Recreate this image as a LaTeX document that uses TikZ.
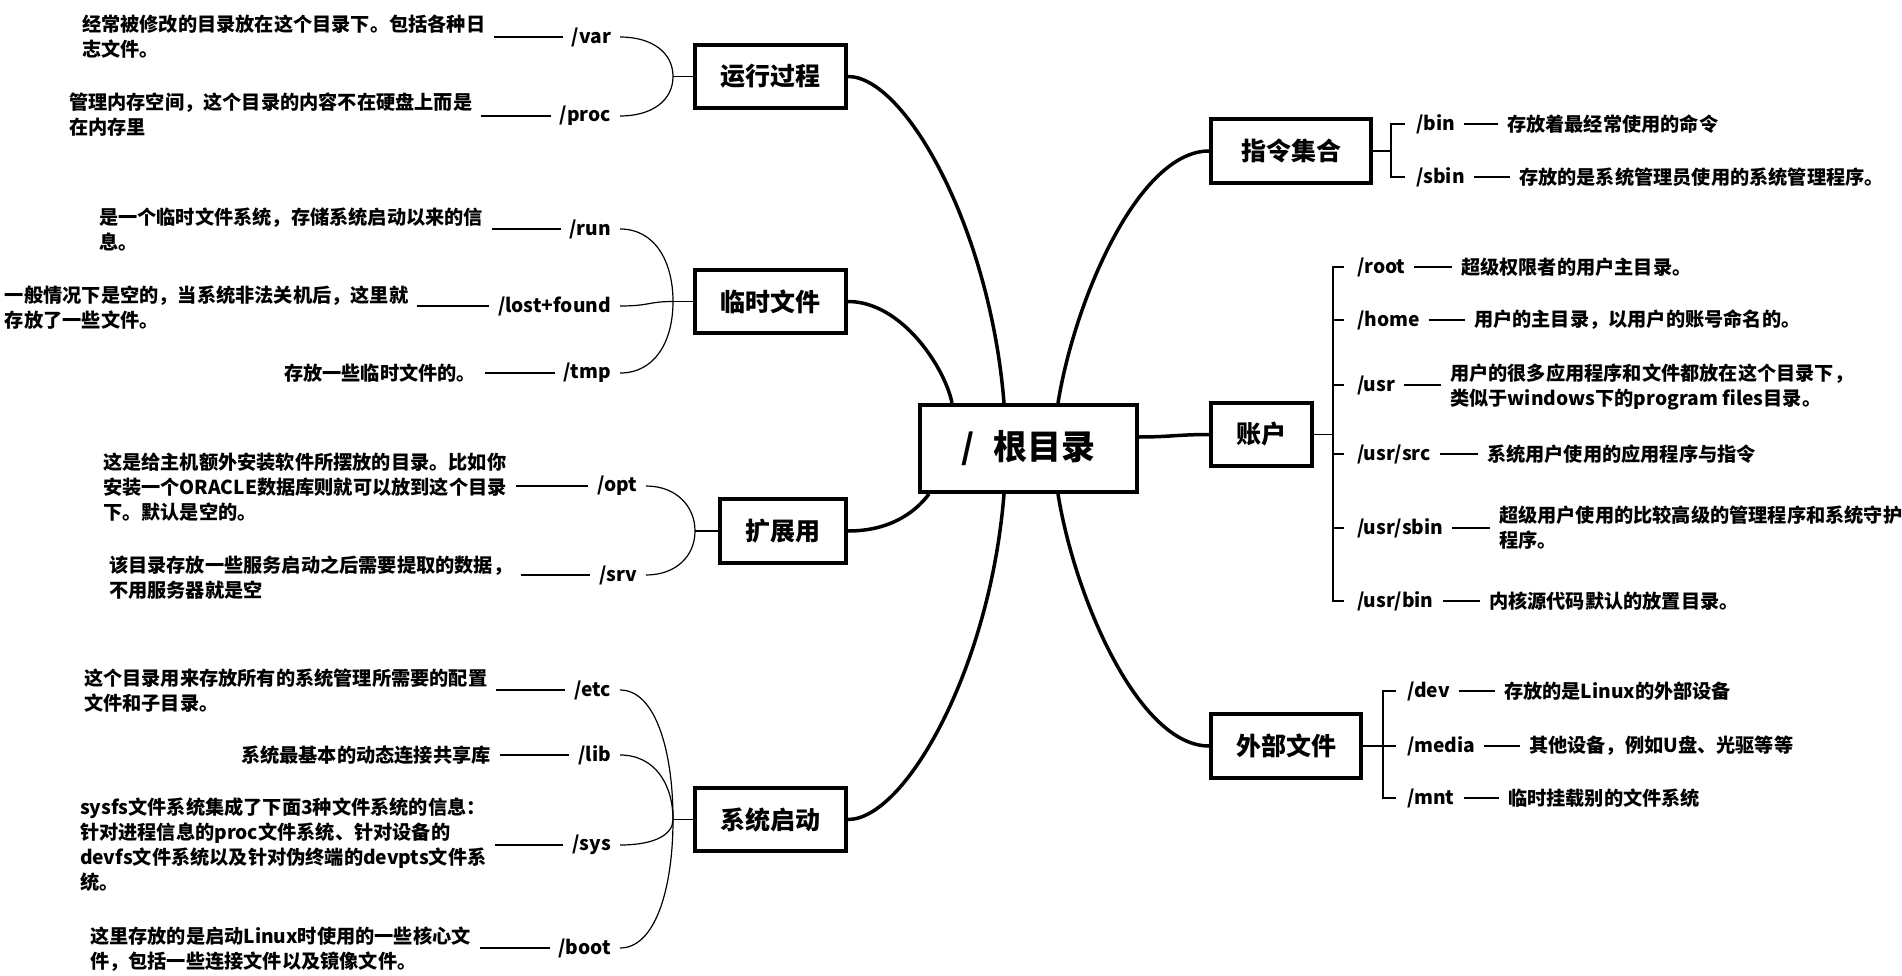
\documentclass[tikz,border=0pt]{standalone}
\usepackage{fontspec}
\setmainfont{Noto Sans CJK SC}
\usetikzlibrary{calc}
\tikzset{
  desc/.style={font=\fontsize{19.2}{25}\selectfont\bfseries, align=left, inner sep=0pt, outer xsep=9pt, outer ysep=0pt},
  lbl/.style={font=\fontsize{19.2}{25}\selectfont\bfseries, inner sep=0pt, outer xsep=9pt, outer ysep=0pt},
  catbox/.style={draw, line width=4pt, font=\fontsize{25}{30}\selectfont\bfseries, inner sep=0pt},
  mainline/.style={line width=3.5pt},
  thinline/.style={line width=1.2pt},
}
\begin{document}
\begin{tikzpicture}[x=1pt,y=-1pt]
\fill[white] (0,0) rectangle (1902,976);
\useasboundingbox (0,0) rectangle (1902,976);

% category boxes
\node[catbox, minimum width=151pt, minimum height=63pt] (yx) at (770.5,76.5) {运行过程};
\node[catbox, minimum width=151pt, minimum height=63pt] (ls) at (770.5,301.5) {临时文件};
\node[catbox, minimum width=126pt, minimum height=64pt] (ky) at (783,531) {扩展用};
\node[catbox, minimum width=151pt, minimum height=63pt] (xt) at (770.5,819.5) {系统启动};
\node[catbox, minimum width=160pt, minimum height=64pt] (zl) at (1291,151) {指令集合};
\node[catbox, minimum width=101pt, minimum height=63pt] (zh) at (1261.5,434.5) {账户};
\node[catbox, minimum width=150pt, minimum height=64pt] (wb) at (1286,746) {外部文件};
\node[catbox, minimum width=217pt, minimum height=87pt, font=\fontsize{34}{40}\selectfont\bfseries] (root) at (1028.5,448.5) {/\hspace{0.55em}根目录};

% main connectors
\draw[mainline] (yx.east) .. controls +(57,0) and +(-14,-175) .. ($(root.north)+(-24.5,0)$);
\draw[mainline] (ls.east) .. controls +(54,0) and +(-7,-35) .. ($(root.north)+(-76.5,0)$);
\draw[mainline] (ky.east) .. controls +(40,0) and +(-15,20) .. ($(root.south)+(-99.5,0)$);
\draw[mainline] (xt.east) .. controls +(57,0) and +(-14,175) .. ($(root.south)+(-24.5,0)$);
\draw[mainline] ($(root.north)+(29.5,0)$) .. controls +(17,-105) and +(-70,0) .. (zl.west);
\draw[mainline] ($(root.east)+(0,-11.5)$) .. controls +(30,0) and +(-30,0) .. (zh.west);
\draw[mainline] ($(root.south)+(29.5,0)$) .. controls +(17,105) and +(-70,0) .. (wb.west);

% ---------- 运行过程 ----------
\node[desc, anchor=west] (vard) at (73,37) {经常被修改的目录放在这个目录下。包括各种日\\志文件。};
\node[lbl, anchor=east] (var) at (620,37) {/var};
\node[desc, anchor=west] (procd) at (60,114.5) {管理内存空间，这个目录的内容不在硬盘上而是\\在内存里};
\node[lbl, anchor=east] (proc) at (620,116) {/proc};
\coordinate (jyx) at ($(yx.west)+(-20,0)$);
\draw[thinline] (vard.east |- var) -- (var.west);
\draw[thinline] (procd.east |- proc) -- (proc.west);
\draw[thinline] (var.east) .. controls +(32,0) and +(0,-24) .. (jyx);
\draw[thinline] (proc.east) .. controls +(32,0) and +(0,24) .. (jyx);
\draw[thinline] (jyx) -- (yx.west);

% ---------- 临时文件 ----------
\node[desc, anchor=west] (rund) at (90,229.5) {是一个临时文件系统，存储系统启动以来的信\\息。};
\node[lbl, anchor=east] (run) at (620,229) {/run};
\node[desc, anchor=west] (lostd) at (-4,307.5) {一般情况下是空的，当系统非法关机后，这里就\\存放了一些文件。};
\node[lbl, anchor=east] (lost) at (620,306) {/lost+found};
\node[desc, anchor=west] (tmpd) at (275,373) {存放一些临时文件的。};
\node[lbl, anchor=east] (tmp) at (620,373) {/tmp};
\coordinate (jls) at ($(ls.west)+(-20,0)$);
\draw[thinline] (rund.east |- run) -- (run.west);
\draw[thinline] (lostd.east |- lost) -- (lost.west);
\draw[thinline] (tmpd.east |- tmp) -- (tmp.west);
\draw[thinline] (run.east) .. controls +(35,0) and +(0,-40) .. (jls);
\draw[thinline] (lost.east) .. controls +(30,0) and +(-25,0) .. (jls);
\draw[thinline] (tmp.east) .. controls +(35,0) and +(0,40) .. (jls);
\draw[thinline] (jls) -- (ls.west);

% ---------- 扩展用 ----------
\node[desc, anchor=west] (optd) at (94,487.5) {这是给主机额外安装软件所摆放的目录。比如你\\安装一个ORACLE数据库则就可以放到这个目录\\下。默认是空的。};
\node[lbl, anchor=east] (opt) at (646,486) {/opt};
\node[desc, anchor=west] (srvd) at (100,577.5) {该目录存放一些服务启动之后需要提取的数据，\\不用服务器就是空};
\node[lbl, anchor=east] (srv) at (646,575) {/srv};
\coordinate (jky) at ($(ky.west)+(-23,0)$);
\draw[thinline] (optd.east |- opt) -- (opt.west);
\draw[thinline] (srvd.east |- srv) -- (srv.west);
\draw[thinline] (opt.east) .. controls +(30,0) and +(0,-25) .. (jky);
\draw[thinline] (srv.east) .. controls +(30,0) and +(0,25) .. (jky);
\draw[thinline] (jky) -- (ky.west);

% ---------- 系统启动 ----------
\node[desc, anchor=west] (etcd) at (75,690.5) {这个目录用来存放所有的系统管理所需要的配置\\文件和子目录。};
\node[lbl, anchor=east] (etc) at (620,690) {/etc};
\node[desc, anchor=west] (libd) at (232,755) {系统最基本的动态连接共享库};
\node[lbl, anchor=east] (lib) at (620,755) {/lib};
\node[desc, anchor=west] (sysd) at (71,845) {sysfs文件系统集成了下面3种文件系统的信息：\\针对进程信息的proc文件系统、针对设备的\\devfs文件系统以及针对伪终端的devpts文件系\\统。};
\node[lbl, anchor=east] (sys) at (620,845) {/sys};
\node[desc, anchor=west] (bootd) at (81,949) {这里存放的是启动Linux时使用的一些核心文\\件，包括一些连接文件以及镜像文件。};
\node[lbl, anchor=east] (boot) at (620,948) {/boot};
\coordinate (jxt) at ($(xt.west)+(-20,0)$);
\draw[thinline] (etcd.east |- etc) -- (etc.west);
\draw[thinline] (libd.east |- lib) -- (lib.west);
\draw[thinline] (sysd.east |- sys) -- (sys.west);
\draw[thinline] (bootd.east |- boot) -- (boot.west);
\draw[thinline] (etc.east) .. controls +(35,0) and +(0,-70) .. (jxt);
\draw[thinline] (lib.east) .. controls +(35,0) and +(0,-35) .. (jxt);
\draw[thinline] (sys.east) .. controls +(35,0) and +(0,15) .. (jxt);
\draw[thinline] (boot.east) .. controls +(35,0) and +(0,70) .. (jxt);
\draw[thinline] (jxt) -- (xt.west);

% ---------- 指令集合 ----------
\node[lbl, anchor=west] (bin) at (1407,124) {/bin};
\node[desc, anchor=west] (bind) at (1498,124) {存放着最经常使用的命令};
\node[lbl, anchor=west] (sbin) at (1407,177) {/sbin};
\node[desc, anchor=west] (sbind) at (1510,177) {存放的是系统管理员使用的系统管理程序。};
\coordinate (jzl) at ($(zl.east)+(18,0)$);
\draw[thinline] (zl.east) -- (jzl);
\draw[thinline] ($(bin.west)+(-2,0)$) -| (jzl) |- ($(sbin.west)+(-2,0)$);
\draw[thinline] (bin.east) -- (bind.west);
\draw[thinline] (sbin.east) -- (sbind.west);

% ---------- 账户 ----------
\node[lbl, anchor=west] (rootl) at (1348,267) {/root};
\node[desc, anchor=west] (rootd) at (1452,267) {超级权限者的用户主目录。};
\node[lbl, anchor=west] (home) at (1348,320) {/home};
\node[desc, anchor=west] (homed) at (1465,320) {用户的主目录，以用户的账号命名的。};
\node[lbl, anchor=west] (usr) at (1348,385) {/usr};
\node[desc, anchor=west] (usrd) at (1441,387) {用户的很多应用程序和文件都放在这个目录下，\\类似于windows下的program files目录。};
\node[lbl, anchor=west] (usrsrc) at (1348,454) {/usr/src};
\node[desc, anchor=west] (usrsrcd) at (1478,454) {系统用户使用的应用程序与指令};
\node[lbl, anchor=west] (usrsbin) at (1348,528) {/usr/sbin};
\node[desc, anchor=west] (usrsbind) at (1490,528) {超级用户使用的比较高级的管理程序和系统守护\\程序。};
\node[lbl, anchor=west] (usrbin) at (1348,601) {/usr/bin};
\node[desc, anchor=west] (usrbind) at (1480,601) {内核源代码默认的放置目录。};
\coordinate (jzh) at ($(zh.east)+(19,0)$);
\draw[thinline] (zh.east) -- (jzh);
\draw[thinline] ($(rootl.west)+(-4,0)$) -| (jzh) |- ($(usrbin.west)+(-4,0)$);
\draw[thinline] (jzh |- home) -- ($(home.west)+(-4,0)$);
\draw[thinline] (jzh |- usr) -- ($(usr.west)+(-4,0)$);
\draw[thinline] (jzh |- usrsrc) -- ($(usrsrc.west)+(-4,0)$);
\draw[thinline] (jzh |- usrsbin) -- ($(usrsbin.west)+(-4,0)$);
\draw[thinline] (rootl.east) -- (rootd.west);
\draw[thinline] (home.east) -- (homed.west);
\draw[thinline] (usr.east) -- (usrd.west |- usr);
\draw[thinline] (usrsrc.east) -- (usrsrcd.west);
\draw[thinline] (usrsbin.east) -- (usrsbind.west |- usrsbin);
\draw[thinline] (usrbin.east) -- (usrbind.west);

% ---------- 外部文件 ----------
\node[lbl, anchor=west] (dev) at (1398,691) {/dev};
\node[desc, anchor=west] (devd) at (1495,691) {存放的是Linux的外部设备};
\node[lbl, anchor=west] (media) at (1398,746) {/media};
\node[desc, anchor=west] (mediad) at (1520,746) {其他设备，例如U盘、光驱等等};
\node[lbl, anchor=west] (mnt) at (1398,798) {/mnt};
\node[desc, anchor=west] (mntd) at (1499,798) {临时挂载别的文件系统};
\coordinate (jwb) at ($(wb.east)+(20,0)$);
\draw[thinline] (wb.east) -- (jwb);
\draw[thinline] ($(dev.west)+(-2,0)$) -| (jwb) |- ($(mnt.west)+(-2,0)$);
\draw[thinline] (jwb |- media) -- ($(media.west)+(-2,0)$);
\draw[thinline] (dev.east) -- (devd.west);
\draw[thinline] (media.east) -- (mediad.west);
\draw[thinline] (mnt.east) -- (mntd.west);
\end{tikzpicture}
\end{document}
